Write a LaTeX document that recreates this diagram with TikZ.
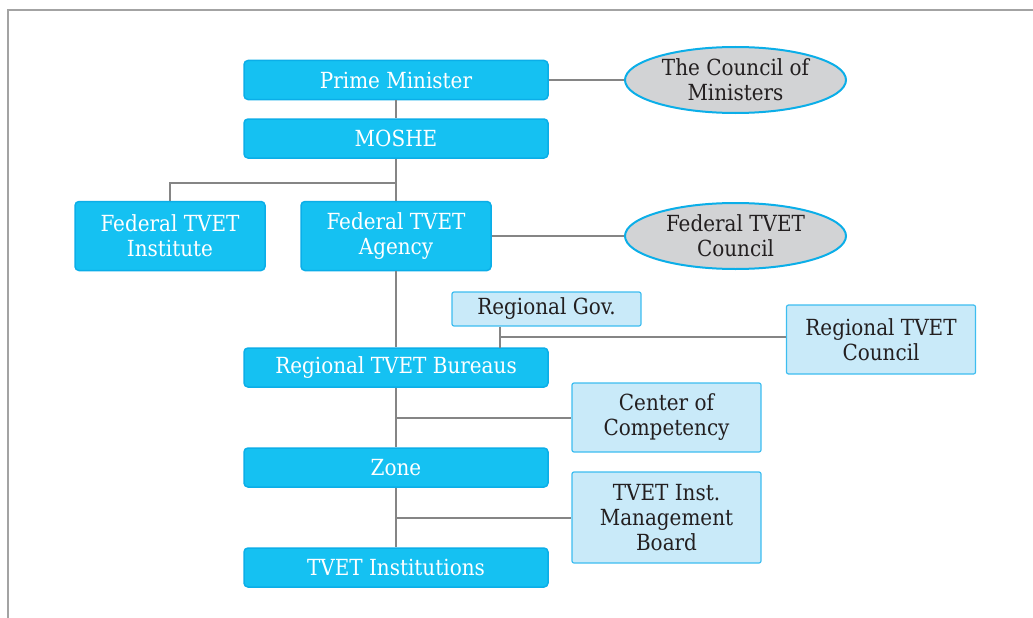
\documentclass[tikz,border=0pt]{standalone}
\usepackage{fontspec}
\setmainfont{DejaVu Serif Condensed}
\usetikzlibrary{shapes.geometric}

\definecolor{boxblue}{HTML}{15C1F2}
\definecolor{boxedge}{HTML}{0BAEE8}
\definecolor{paleblue}{HTML}{C9EAF9}
\definecolor{paleedge}{HTML}{3DBDF0}
\definecolor{ovalgray}{HTML}{D2D3D5}
\definecolor{linkgray}{HTML}{858585}
\definecolor{framegray}{HTML}{A3A3A3}
\definecolor{inkdark}{HTML}{231F20}

\begin{document}
\begin{tikzpicture}[x=1pt, y=-1pt,
  office/.style={draw=boxedge, line width=1.5pt, fill=boxblue, rounded corners=4pt,
    text=white, align=center, inner sep=0pt, font=\fontsize{22.2}{25}\selectfont},
  wide/.style={office, minimum width=304pt, minimum height=39pt},
  unit/.style={office, minimum width=190pt, minimum height=69pt},
  body/.style={draw=paleedge, line width=1.2pt, fill=paleblue, rounded corners=2pt,
    text=inkdark, align=center, inner sep=0pt, minimum width=189pt,
    font=\fontsize{22.2}{25}\selectfont},
  council/.style={ellipse, draw=boxedge, line width=2pt, fill=ovalgray, text=inkdark,
    minimum width=221pt, minimum height=66pt, align=center, inner sep=0pt,
    font=\fontsize{22.2}{25}\selectfont},
  link/.style={draw=linkgray, line width=2pt}]
  \useasboundingbox (0,0) rectangle (1033,618);
  % page frame
  \draw[framegray, line width=1.5pt] (8,618) -- (8,10) -- (1033,10);

  % federal level
  \node[wide] (pm) at (396,80) {Prime Minister};
  \node[wide] (moshe) at (396,138.5) {MOSHE};
  \node[unit] (institute) at (170,236) {Federal TVET\\Institute};
  \node[unit] (agency) at (396,236) {Federal TVET\\Agency};
  \node[council] (ministers) at (735.5,80) {The Council of\\Ministers};
  \node[council] (fedcouncil) at (735.5,236) {Federal TVET\\Council};

  % regional level and below
  \node[body, minimum height=34pt] (gov) at (546.5,309) {Regional Gov.};
  \node[body, minimum height=69pt] (regcouncil) at (881,339.5) {Regional TVET\\Council};
  \node[wide] (bureaus) at (396,367.5) {Regional TVET Bureaus};
  \node[body, minimum height=69pt] (centre) at (666.5,417.5) {Center of\\Competency};
  \node[wide] (zone) at (396,467.5) {Zone};
  \node[body, minimum height=91pt] (board) at (666.5,517.5) {TVET Inst.\\Management\\Board};
  \node[wide] (schools) at (396,567.5) {TVET Institutions};

  % connectors
  \coordinate (fork) at (396,183);
  \coordinate (govfoot) at (500,348);
  \draw[link] (pm.east) -- (ministers.west);
  \draw[link] (pm.south) -- (moshe.north);
  \draw[link] (moshe.south) -- (agency.north);
  \draw[link] (fork) -| (institute.north);
  \draw[link] (agency.east) -- (fedcouncil.west);
  \draw[link] (agency.south) -- (bureaus.north);
  \draw[link] (gov.south -| govfoot) -- (govfoot);
  \draw[link] (govfoot |- 0,337) -- (regcouncil.west |- 0,337);
  \draw[link] (bureaus.south) -- (zone.north);
  \draw[link] (centre.west -| zone.north) -- (centre.west);
  \draw[link] (zone.south) -- (schools.north);
  \draw[link] (board.west -| schools.north) -- (board.west);
\end{tikzpicture}
\end{document}
